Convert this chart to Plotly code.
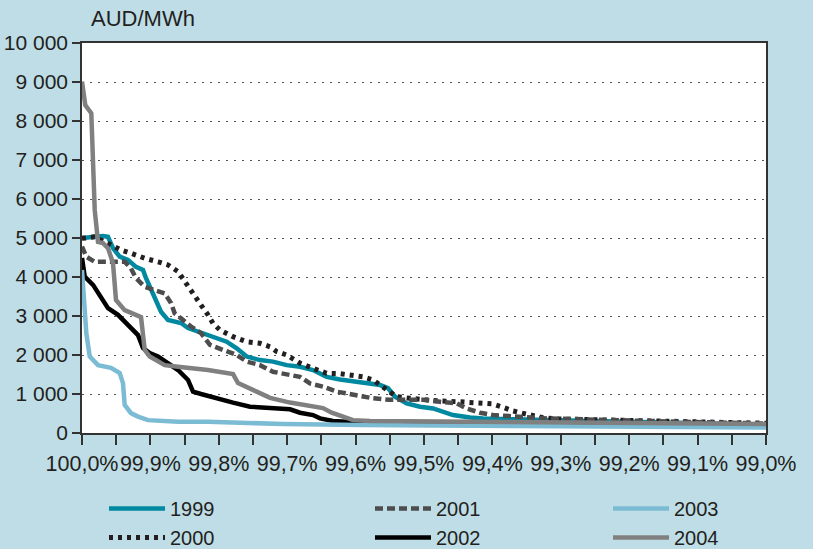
import plotly.graph_objects as go

# ---------------- data (percentile of hours, AUD/MWh) ----------------
years = ["1999", "2000", "2001", "2002", "2003", "2004"]

x1999 = [100.0, 99.9693, 99.962, 99.9547, 99.9449, 99.9327, 99.9211, 99.9108, 99.9064, 99.8962,
         99.8845, 99.8743, 99.8645, 99.8553, 99.845, 99.8304, 99.8158, 99.8085, 99.7885, 99.7738,
         99.7592, 99.7398, 99.7208, 99.7007, 99.6813, 99.6623, 99.6423, 99.6228, 99.5936, 99.5643,
         99.5526, 99.5424, 99.5253, 99.5058, 99.4868, 99.4722, 99.4576, 99.4327, 99.4137, 99.3699,
         99.3304, 99.2, 99.0]
y1999 = [5000, 5050, 5030, 4740, 4520, 4440, 4260, 4180, 3970, 3540,
         3110, 2900, 2850, 2820, 2690, 2600, 2530, 2470, 2340, 2170,
         1960, 1870, 1830, 1740, 1700, 1615, 1440, 1370, 1310, 1230,
         1150, 930, 760, 675, 630, 545, 460, 400, 375, 350,
         330, 290, 220]

x2000 = [100.0, 99.9814, 99.962, 99.943, 99.9284, 99.9083, 99.8889, 99.8743, 99.8596, 99.8499,
         99.8377, 99.826, 99.8158, 99.8085, 99.7982, 99.7792, 99.7592, 99.7398, 99.7251, 99.7154,
         99.7007, 99.6813, 99.6623, 99.6423, 99.6228, 99.6038, 99.5892, 99.5746, 99.5599, 99.5497,
         99.5399, 99.5205, 99.5015, 99.4766, 99.4474, 99.4137, 99.3991, 99.3845, 99.3699, 99.3553,
         99.3406, 99.326, 99.3056, 99.28, 99.24, 99.2, 99.0]
y2000 = [4990, 5030, 4860, 4690, 4610, 4480, 4390, 4310, 4140, 3880,
         3540, 3280, 3030, 2810, 2640, 2470, 2340, 2300, 2210, 2090,
         2000, 1790, 1660, 1530, 1520, 1490, 1440, 1360, 1190, 1060,
         930, 890, 850, 820, 800, 780, 745, 660, 565, 505,
         435, 390, 360, 350, 330, 310, 250]

x2001 = [100.0, 99.9937, 99.9814, 99.9376, 99.9284, 99.9211, 99.9083, 99.8937, 99.8791, 99.8699,
         99.8645, 99.8553, 99.8406, 99.826, 99.8129, 99.7939, 99.7738, 99.7592, 99.7398, 99.7208,
         99.7007, 99.6813, 99.6667, 99.6477, 99.6276, 99.6082, 99.5936, 99.5746, 99.5497, 99.5015,
         99.4766, 99.4522, 99.4376, 99.4181, 99.3991, 99.379, 99.3494, 99.3202, 99.2, 99.0]
y2001 = [4780, 4520, 4390, 4390, 4220, 3970, 3750, 3670, 3580, 3330,
         3070, 2940, 2730, 2560, 2260, 2130, 2000, 1830, 1740, 1570,
         1490, 1440, 1270, 1190, 1060, 1000, 930, 890, 850, 850,
         800, 760, 630, 520, 460, 435, 400, 375, 320, 240]

x2002 = [100.0, 99.996, 99.9839, 99.9722, 99.962, 99.9474, 99.9303, 99.9181, 99.9108, 99.901,
         99.8889, 99.8743, 99.8596, 99.845, 99.8377, 99.826, 99.8158, 99.8085, 99.7792, 99.7544,
         99.73, 99.6959, 99.6813, 99.6623, 99.652, 99.633, 99.613, 99.5, 99.2, 99.0]
y2002 = [4490, 4010, 3800, 3500, 3200, 3030, 2730, 2510, 2180, 2050,
         1960, 1790, 1615, 1360, 1060, 1000, 950, 900, 780, 675,
         655, 607, 520, 460, 375, 310, 290, 270, 240, 200]

x2003 = [100.0, 99.9937, 99.9887, 99.9766, 99.9576, 99.9449, 99.9401, 99.9376, 99.9284, 99.9181,
         99.9035, 99.8596, 99.8158, 99.7061, 99.5936, 99.5, 99.3, 99.0]
y2003 = [4180, 2560, 1960, 1740, 1670, 1540, 1280, 720, 510, 420,
         330, 290, 290, 230, 205, 190, 170, 140]

x2004 = [100.0, 99.9952, 99.9864, 99.984, 99.9814, 99.9766, 99.9693, 99.962, 99.9547, 99.9503,
         99.9376, 99.9137, 99.9083, 99.901, 99.8791, 99.8596, 99.8158, 99.7792, 99.7719, 99.7446,
         99.7251, 99.6959, 99.6715, 99.6477, 99.6349, 99.6184, 99.6038, 99.579, 99.5, 99.4,
         99.3, 99.2, 99.1, 99.0]
y2004 = [9010, 8410, 8200, 7000, 5720, 4900, 4870, 4740, 4360, 3410,
         3150, 2970, 2130, 1960, 1740, 1700, 1615, 1510, 1280, 1060,
         900, 780, 720, 640, 520, 420, 330, 310, 300, 290,
         280, 260, 245, 230]

x_tickvals = [100.0, 99.9, 99.8, 99.7, 99.6, 99.5, 99.4, 99.3, 99.2, 99.1, 99.0]
x_ticktext = ["100,0%", "99,9%", "99,8%", "99,7%", "99,6%", "99,5%",
              "99,4%", "99,3%", "99,2%", "99,1%", "99,0%"]
y_tickvals = [0, 1000, 2000, 3000, 4000, 5000, 6000, 7000, 8000, 9000, 10000]
y_ticktext = ["0", "1 000", "2 000", "3 000", "4 000", "5 000",
              "6 000", "7 000", "8 000", "9 000", "10 000"]
y_title = "AUD/MWh"

# ---------------- styling ----------------
FONT = "Liberation Sans, Arial, sans-serif"
TXT = "#231f20"
BG = "#bedde6"

series = [
    (years[0], x1999, y1999, dict(color="#0089a0", width=4.5), "legend"),
    (years[1], x2000, y2000, dict(color="#231f20", width=5, dash="4px,5px"), "legend"),
    (years[2], x2001, y2001, dict(color="#4d4d4d", width=4.5, dash="8px,4px"), "legend2"),
    (years[3], x2002, y2002, dict(color="#000000", width=4.5), "legend2"),
    (years[4], x2003, y2003, dict(color="#7bbcd4", width=4.5), "legend3"),
    (years[5], x2004, y2004, dict(color="#808080", width=4.5), "legend3"),
]

fig = go.Figure()
for name, xs, ys, line, lg in series:
    fig.add_trace(go.Scatter(x=xs, y=ys, mode="lines", name=name, line=line,
                             legend=lg, hoverinfo="skip"))

W, H = 813, 549
L, R, T, B = 82, 47, 43, 116
PW, PH = W - L - R, H - T - B


def legend_cfg(px):
    return dict(x=(px - L) / PW, y=-(489 - (H - B)) / PH, xanchor="left", yanchor="top",
                orientation="v", bgcolor="rgba(0,0,0,0)", tracegroupgap=0,
                font=dict(family=FONT, size=20, color=TXT), itemwidth=56)


fig.update_layout(
    width=W, height=H,
    margin=dict(l=L, r=R, t=T, b=B, autoexpand=False),
    paper_bgcolor=BG, plot_bgcolor="white",
    font=dict(family=FONT, size=21, color=TXT),
    showlegend=True,
    legend=legend_cfg(104),
    legend2=legend_cfg(370),
    legend3=legend_cfg(608),
    xaxis=dict(range=[100.0, 99.0], tickvals=x_tickvals, ticktext=x_ticktext,
               ticks="outside", ticklen=10, tickwidth=1.5, tickcolor="#333",
               showline=True, linecolor="#333", linewidth=1.5, mirror=True,
               showgrid=False, zeroline=False, automargin=False, tickangle=0,
               tickfont=dict(family=FONT, size=21.5, color=TXT),
               minor=dict(ticks="outside", ticklen=10, tickwidth=1.5, tickcolor="#333",
                          tick0=99.05, dtick=0.1, showgrid=False)),
    yaxis=dict(range=[0, 10000], tickvals=y_tickvals, ticktext=y_ticktext,
               ticks="outside", ticklen=8, tickwidth=1.5, tickcolor="#333",
               showline=True, linecolor="#333", linewidth=1.5, mirror=True,
               showgrid=True, gridcolor="#555", gridwidth=1.3, griddash="2px,6px",
               zeroline=False, automargin=False,
               tickfont=dict(family=FONT, size=21, color=TXT)),
    annotations=[dict(text=y_title, xref="paper", yref="paper",
                      x=(89 - L) / PW, y=(H - B - 18) / PH,
                      xanchor="left", yanchor="middle", showarrow=False,
                      font=dict(family=FONT, size=22, color=TXT))],
)

fig.write_html("out.html",
               config={"displayModeBar": False},
               post_script="document.body.style.margin='0';"
                           "document.body.style.background='" + BG + "';")
